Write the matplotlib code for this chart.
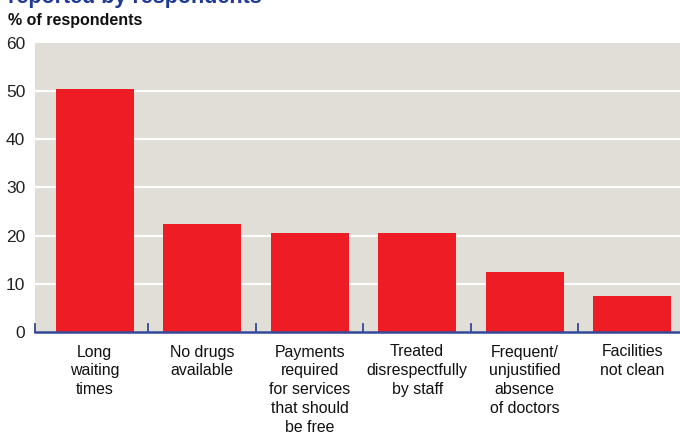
import matplotlib.pyplot as plt
import numpy as np

categories = [
    "Long\nwaiting\ntimes",
    "No drugs\navailable",
    "Payments\nrequired\nfor services\nthat should\nbe free",
    "Treated\ndisrespectfully\nby staff",
    "Frequent/\nunjustified\nabsence\nof doctors",
    "Facilities\nnot clean",
]
values = [50.5, 22.5, 20.5, 20.5, 12.5, 7.5]
yticks = [0, 10, 20, 30, 40, 50, 60]

plt.rcParams['font.family'] = ['Liberation Sans', 'DejaVu Sans']

W, H = 680, 433
fig = plt.figure(figsize=(W / 100, H / 100), dpi=100)
ax = fig.add_axes([35 / W, 1 - 332 / H, 645 / W, 289 / H])
ax.set_facecolor('#E1DDD7')

x = np.arange(len(categories))
ax.bar(x + 0.055, values, width=0.725, color='#EE1D25', zorder=3)

ax.set_xlim(-0.5, len(categories) - 0.5)
ax.set_ylim(0, 60)
ax.set_yticks(yticks)
ax.set_yticklabels([str(v) for v in yticks], fontsize=12.5, color='#222222')
ax.tick_params(axis='y', length=0, pad=7)
for v in yticks[1:-1]:
    ax.axhline(v, color='white', lw=1.5, zorder=2)

ax.set_xticks(x + 0.055)
ax.set_xticklabels(categories, fontsize=11.4, linespacing=1.33, va='top', color='#111111')
ax.tick_params(axis='x', length=0, pad=9)

# category separators rising from the baseline
seps = [-0.5] + list(np.arange(0.555, len(categories) - 0.5, 1.0))
for b in seps:
    ax.plot([b, b], [0, 1.6], color='#34489A', lw=1.3, zorder=4, clip_on=False)

for s in ['top', 'right', 'left']:
    ax.spines[s].set_visible(False)
ax.spines['bottom'].set_color('#34489A')
ax.spines['bottom'].set_linewidth(1.8)
ax.spines['bottom'].set_zorder(5)

fig.text(8 / W, 1 + 3 / H, "reported by respondents", fontsize=15.5, fontweight='bold',
         color='#1F3A93', va='center', ha='left')
fig.text(8 / W, 1 - 20 / H, "% of respondents", fontsize=11.5, fontweight='bold',
         color='#111111', va='center', ha='left')

fig.savefig('out.png', dpi=100)
